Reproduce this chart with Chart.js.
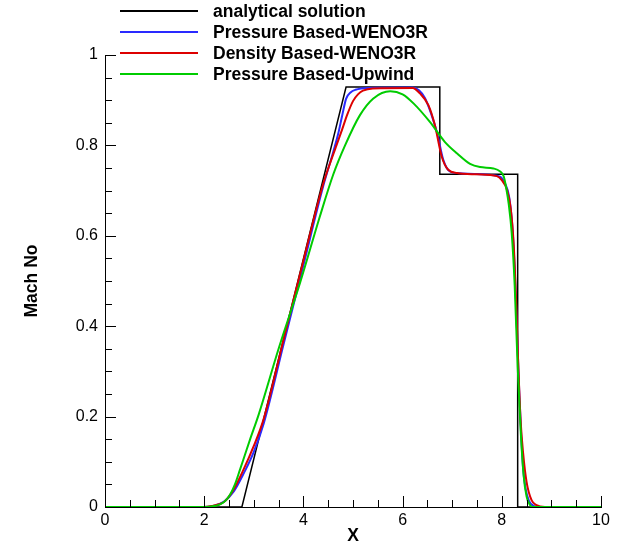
<!DOCTYPE html>
<html><head><meta charset="utf-8">
<script src="https://cdn.jsdelivr.net/npm/chart.js@4/dist/chart.umd.min.js"></script>
<style>html,body{margin:0;padding:0;background:#fff;}#wrap{width:618px;height:544px;}</style>
</head><body><div id="wrap"><canvas id="c" width="618" height="544"></canvas></div>
<script>
// ---- data ----
const seriesNames = ["analytical solution", "Pressure Based-WENO3R", "Density Based-WENO3R", "Pressure Based-Upwind"];
const xTickLabels = ["0", "2", "4", "6", "8", "10"];
const yTickLabels = ["0", "0.2", "0.4", "0.6", "0.8", "1"];

const analyticalX = [0, 2.76, 4.86, 6.75, 6.75, 8.32, 8.32, 10];
const analyticalY = [0, 0, 0.929, 0.929, 0.736, 0.736, 0, 0];

const pbWenoX = [0, 2.0, 2.2, 2.4, 2.6, 2.8, 3.0, 3.2, 3.6, 4.0, 4.4, 4.6, 4.7, 4.78, 4.86, 4.95, 5.05, 5.3, 6.2, 6.33, 6.45, 6.57, 6.7, 6.82, 6.96, 7.2, 7.6, 7.96, 8.06, 8.15, 8.22, 8.27, 8.31, 8.35, 8.39, 8.43, 8.48, 8.55, 8.65, 8.75, 10];
const pbWenoY = [0, 0, 0.003, 0.012, 0.035, 0.075, 0.122, 0.185, 0.36, 0.535, 0.71, 0.785, 0.825, 0.865, 0.903, 0.917, 0.923, 0.927, 0.928, 0.922, 0.905, 0.872, 0.826, 0.768, 0.742, 0.738, 0.736, 0.731, 0.717, 0.685, 0.61, 0.5, 0.38, 0.26, 0.16, 0.085, 0.04, 0.013, 0.002, 0, 0];

const dbWenoX = [0, 2.0, 2.15, 2.3, 2.42, 2.59, 2.79, 3.0, 3.2, 3.6, 4.0, 4.4, 4.65, 4.78, 4.88, 5.0, 5.1, 5.2, 5.4, 6.2, 6.35, 6.52, 6.65, 6.79, 6.92, 7.1, 7.5, 7.9, 8.0, 8.1, 8.18, 8.24, 8.29, 8.33, 8.38, 8.43, 8.5, 8.6, 8.7, 8.87, 10];
const dbWenoY = [0, 0, 0.002, 0.006, 0.013, 0.038, 0.082, 0.135, 0.195, 0.37, 0.545, 0.715, 0.795, 0.835, 0.867, 0.898, 0.913, 0.921, 0.926, 0.927, 0.915, 0.889, 0.845, 0.775, 0.746, 0.739, 0.736, 0.732, 0.723, 0.703, 0.66, 0.58, 0.45, 0.32, 0.19, 0.119, 0.055, 0.015, 0.004, 0, 0];

const pbUpwindX = [0, 2.0, 2.2, 2.32, 2.42, 2.52, 2.62, 2.72, 2.82, 2.92, 3.1, 3.5, 3.93, 4.33, 4.6, 4.84, 5.14, 5.41, 5.75, 6.0, 6.22, 6.55, 6.85, 7.1, 7.36, 7.56, 7.83, 7.96, 8.04, 8.09, 8.14, 8.2, 8.26, 8.32, 8.38, 8.44, 8.5, 8.56, 8.62, 10];
const pbUpwindY = [0, 0, 0.002, 0.006, 0.013, 0.027, 0.05, 0.082, 0.115, 0.148, 0.205, 0.35, 0.495, 0.642, 0.735, 0.80, 0.867, 0.904, 0.920, 0.913, 0.893, 0.852, 0.808, 0.782, 0.759, 0.752, 0.749, 0.743, 0.731, 0.705, 0.67, 0.606, 0.49, 0.31, 0.17, 0.07, 0.023, 0.006, 0, 0];

const colors = ["#000000", "#2a2aff", "#dd0000", "#00cc00"];

function pts(xs, ys) { return xs.map((x, i) => ({x: x, y: ys[i]})); }

const FONT = "'Liberation Sans', Arial, Helvetica, sans-serif";

const tickPlugin = {
  id: 'inTicks',
  afterDraw(chart) {
    const ctx = chart.ctx, xs = chart.scales.x, ys = chart.scales.y;
    const a = chart.chartArea;
    ctx.save();
    ctx.strokeStyle = '#000';
    ctx.lineWidth = 1;
    ctx.beginPath();
    for (let v = 0; v <= 10.0001; v += 0.5) {
      const major = Math.abs(v / 2 - Math.round(v / 2)) < 1e-6;
      const px = Math.round(xs.getPixelForValue(v)) + 0.5;
      ctx.moveTo(px, a.bottom);
      ctx.lineTo(px, a.bottom - (major ? 11 : 7));
    }
    for (let v = 0; v <= 1.0001; v += 0.05) {
      const major = Math.abs(v / 0.2 - Math.round(v / 0.2)) < 1e-6;
      const py = Math.round(ys.getPixelForValue(v)) + 0.5;
      ctx.moveTo(a.left, py);
      ctx.lineTo(a.left + (major ? 11 : 7), py);
    }
    ctx.stroke();
    // legend
    const rows = [11, 32, 53, 74];
    ctx.font = 'bold 17.5px ' + FONT;
    ctx.textBaseline = 'middle';
    ctx.textAlign = 'left';
    seriesNames.forEach((name, i) => {
      ctx.strokeStyle = colors[i];
      ctx.lineWidth = 2;
      ctx.beginPath();
      ctx.moveTo(120, rows[i]);
      ctx.lineTo(198, rows[i]);
      ctx.stroke();
      ctx.fillStyle = '#000';
      ctx.fillText(name, 213, rows[i] + 1);
    });
    ctx.restore();
  }
};

const widths = [1.5, 2, 2, 2];
const data = [pts(analyticalX, analyticalY), pts(pbWenoX, pbWenoY), pts(dbWenoX, dbWenoY), pts(pbUpwindX, pbUpwindY)];

new Chart(document.getElementById('c'), {
  type: 'scatter',
  data: {
    datasets: data.map((d, i) => ({
      label: seriesNames[i],
      data: d,
      showLine: true,
      borderColor: colors[i],
      backgroundColor: colors[i],
      borderWidth: widths[i],
      pointRadius: 0,
      tension: i === 0 ? 0 : 0.4,
      cubicInterpolationMode: i === 0 ? 'default' : 'monotone',
      order: 4 - i
    }))
  },
  options: {
    responsive: false,
    animation: false,
    devicePixelRatio: 1,
    layout: { padding: { left: 0, right: 17, top: 55, bottom: 0 } },
    plugins: { legend: { display: false }, tooltip: { enabled: false } },
    scales: {
      x: {
        type: 'linear', min: 0, max: 10,
        grid: { display: false, drawTicks: false },
        border: { display: true, color: '#000', width: 1 },
        ticks: {
          stepSize: 2, padding: 4, color: '#000', maxRotation: 0,
          font: { family: FONT, size: 16 },
          callback: (v) => xTickLabels[Math.round(v / 2)]
        },
        title: { display: true, text: 'X', color: '#000', font: { family: FONT, size: 17.5, weight: 'bold' }, padding: { top: 0, bottom: -3 } },
        afterFit: (s) => { s.height = 37; }
      },
      y: {
        type: 'linear', min: 0, max: 1,
        grid: { display: false, drawTicks: false },
        border: { display: true, color: '#000', width: 1 },
        ticks: {
          stepSize: 0.2, padding: 7, color: '#000',
          font: { family: FONT, size: 16 },
          callback: (v) => yTickLabels[Math.round(v / 0.2)]
        },
        title: { display: true, text: 'Mach No', color: '#000', font: { family: FONT, size: 17.5, weight: 'bold' }, padding: { top: 22, bottom: 0 } },
        afterFit: (s) => { s.width = 105; }
      }
    }
  },
  plugins: [tickPlugin]
});
</script></body></html>
